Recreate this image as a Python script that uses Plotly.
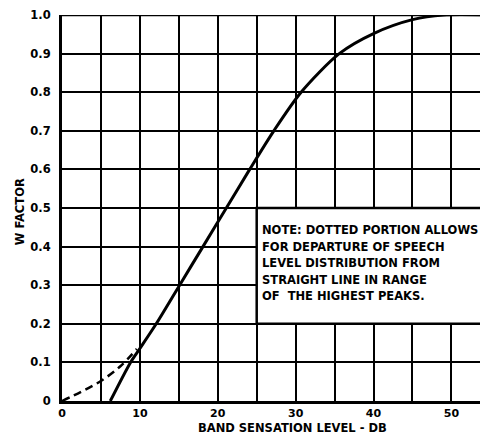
import plotly.graph_objects as go

# Data
solid_x = [6.2, 8.8, 10, 12.1, 15.1, 18.1, 21.1, 24.1, 27.2, 30.7, 35.6, 40, 45, 49, 55]
solid_y = [0, 0.1, 0.136, 0.2, 0.30, 0.40, 0.5, 0.6, 0.7, 0.8, 0.9, 0.952, 0.988, 1.0, 1.0]
dash_x = [0, 2.5, 5, 7.5, 9.6]
dash_y = [0, 0.024, 0.052, 0.09, 0.135]
x_ticks = [0, 10, 20, 30, 40, 50]
y_ticks = [0, 0.1, 0.2, 0.3, 0.4, 0.5, 0.6, 0.7, 0.8, 0.9, 1.0]
y_tick_text = ["0", "0.1", "0.2", "0.3", "0.4", "0.5", "0.6", "0.7", "0.8", "0.9", "1.0"]
note_lines = [
    "NOTE: DOTTED PORTION ALLOWS",
    "FOR DEPARTURE OF SPEECH",
    "LEVEL DISTRIBUTION FROM",
    "STRAIGHT LINE IN RANGE",
    "OF  THE HIGHEST PEAKS.",
]
note_box_x = [25, 55]
note_box_y = [0.2, 0.5]

FONT = "DejaVu Sans"

fig = go.Figure()
fig.add_trace(go.Scatter(x=solid_x, y=solid_y, mode="lines",
                         line=dict(color="black", width=3, shape="spline", smoothing=0.8),
                         hoverinfo="skip", showlegend=False))
fig.add_trace(go.Scatter(x=dash_x, y=dash_y, mode="lines",
                         line=dict(color="black", width=2.5, dash="8px,5px", shape="spline"),
                         hoverinfo="skip", showlegend=False))

# note box covering the grid
fig.add_shape(type="rect", x0=note_box_x[0], x1=note_box_x[1], y0=note_box_y[0], y1=note_box_y[1],
              xref="x", yref="y", fillcolor="white", line=dict(color="black", width=2.5), layer="above")

for i, t in enumerate(note_lines):
    fig.add_annotation(x=25.4, y=0.443 - i * 0.043, xref="x", yref="y", text=t, showarrow=False,
                       xanchor="left", yanchor="middle",
                       font=dict(family=FONT, size=11.5, color="black", weight="bold"))

fig.add_annotation(x=0.54, y=-0.071, xref="paper", yref="paper", text="BAND SENSATION LEVEL - DB",
                   showarrow=False, xanchor="center", yanchor="middle",
                   font=dict(family=FONT, size=11.5, color="black", weight="bold"))
fig.add_annotation(x=-0.1, y=0.49, xref="paper", yref="paper", text="W FACTOR", textangle=-90,
                   showarrow=False, xanchor="center", yanchor="middle",
                   font=dict(family=FONT, size=11.5, color="black", weight="bold"))

fig.update_xaxes(range=[0, 54.7], tickmode="array", tickvals=x_ticks, automargin=False,
                 showgrid=True, gridcolor="black", gridwidth=2,
                 showline=True, linecolor="black", linewidth=3, mirror=False,
                 zeroline=False, ticks="", ticklabelstandoff=0,
                 tickfont=dict(family=FONT, size=11, color="black", weight="bold"),
                 minor=dict(dtick=5, showgrid=True, gridcolor="black", gridwidth=2))
fig.update_yaxes(range=[0, 1.0], tickmode="array", tickvals=y_ticks, ticktext=y_tick_text,
                 automargin=False,
                 showgrid=True, gridcolor="black", gridwidth=2,
                 showline=True, linecolor="black", linewidth=3,
                 zeroline=False, ticks="", ticklabelstandoff=6,
                 tickfont=dict(family=FONT, size=11.5, color="black", weight="bold"))

# top border line at 1.0
fig.add_shape(type="line", x0=0, x1=1, xref="paper", y0=1, y1=1, yref="y",
              line=dict(color="black", width=2.5), layer="above")

# page body has an 8px margin, so the figure is offset by 8px; compensate
fig.update_layout(width=480, height=428, margin=dict(l=54, r=0, t=7, b=35),
                  plot_bgcolor="white", paper_bgcolor="white")

fig.write_html("out.html")
